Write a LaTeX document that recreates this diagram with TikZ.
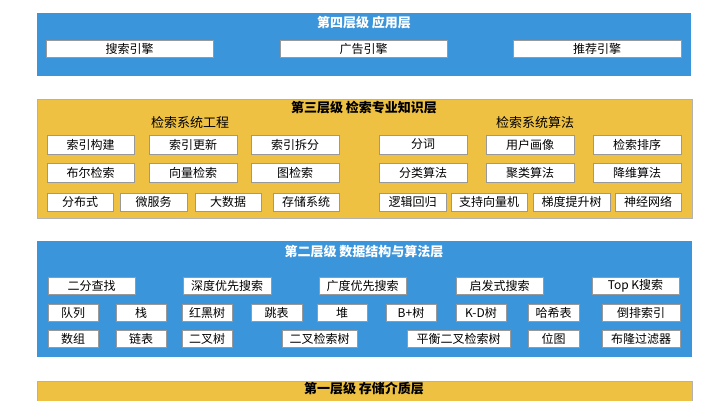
\documentclass[tikz,border=0pt]{standalone}
\usepackage{fontspec}
\setmainfont{Noto Sans CJK SC}
\definecolor{layerblue}{HTML}{3B95DB}
\definecolor{layeryellow}{HTML}{EFC143}

\begin{document}
\begin{tikzpicture}[x=1pt,y=-1pt,
				layer/.style = {draw=gray!60, line width=0.6pt},
				box node/.style = {draw=gray!80, fill=white, line width=0.5pt, inner sep=0pt, minimum height=17pt, font=\fontsize{12}{13}\selectfont},
				title node/.style = {font=\fontsize{13}{14}\selectfont\bfseries, inner sep=0pt}]
				\useasboundingbox (0,0) rectangle (728,400);
				
				% layer 4
				\fill[layerblue] (37,13) rectangle (691,76);
				\node[title node,text=white] (t4) at (364,23) {第四层级\ 应用层};
				\node[box node,minimum width=167pt] (a1) at (129.5,48.5) {搜索引擎};
				\node[box node,minimum width=167pt] (a2) at (363.5,48.5) {广告引擎};
				\node[box node,minimum width=168pt] (a3) at (597,48.5) {推荐引擎};
				
				% layer 3
				\filldraw[layer,fill=layeryellow] (37,99) rectangle (692,218);
				\node[title node] (t3) at (364,108) {第三层级\ 检索专业知识层};
				\node[title node,font=\fontsize{13}{14}\selectfont] (e0) at (190,123) {检索系统工程};
				\node[title node,font=\fontsize{13}{14}\selectfont] (s0) at (535,123) {检索系统算法};
				\node[box node,minimum width=87pt,minimum height=19pt] (e1) at (90.5,144.5) {索引构建};
				\node[box node,minimum width=88pt,minimum height=19pt] (e2) at (193,144.5) {索引更新};
				\node[box node,minimum width=88pt,minimum height=19pt] (e3) at (295,144.5) {索引拆分};
				\node[box node,minimum width=87pt,minimum height=19pt] (e4) at (90.5,173) {布尔检索};
				\node[box node,minimum width=88pt,minimum height=19pt] (e5) at (193,173) {向量检索};
				\node[box node,minimum width=88pt,minimum height=19pt] (e6) at (295,173) {图检索};
				\node[box node,minimum width=66pt,minimum height=18pt] (e7) at (80,202) {分布式};
				\node[box node,minimum width=67pt,minimum height=18pt] (e8) at (153.5,202) {微服务};
				\node[box node,minimum width=66pt,minimum height=18pt] (e9) at (228,202) {大数据};
				\node[box node,minimum width=66pt,minimum height=18pt] (e10) at (306,202) {存储系统};
				\node[box node,minimum width=88pt,minimum height=19pt] (s1) at (423,144.5) {分词};
				\node[box node,minimum width=88pt,minimum height=19pt] (s2) at (530,144.5) {用户画像};
				\node[box node,minimum width=88pt,minimum height=19pt] (s3) at (637,144.5) {检索排序};
				\node[box node,minimum width=88pt,minimum height=19pt] (s4) at (423,173) {分类算法};
				\node[box node,minimum width=88pt,minimum height=19pt] (s5) at (530,173) {聚类算法};
				\node[box node,minimum width=88pt,minimum height=19pt] (s6) at (637,173) {降维算法};
				\node[box node,minimum width=67pt,minimum height=18pt] (s7) at (412.5,202) {逻辑回归};
				\node[box node,minimum width=76pt,minimum height=18pt] (s8) at (489,202) {支持向量机};
				\node[box node,minimum width=77pt,minimum height=18pt] (s9) at (571.5,202) {梯度提升树};
				\node[box node,minimum width=66pt,minimum height=18pt] (s10) at (648,202) {神经网络};
				
				% layer 2
				\fill[layerblue] (37,241) rectangle (692,357);
				\node[title node,text=white] (t2) at (364,252) {第二层级\ 数据结构与算法层};
				\node[box node,minimum width=87pt] (d1) at (91.5,286) {二分查找};
				\node[box node,minimum width=88pt] (d2) at (227,286) {深度优先搜索};
				\node[box node,minimum width=87pt] (d3) at (362.5,286) {广度优先搜索};
				\node[box node,minimum width=87pt] (d4) at (499.5,286) {启发式搜索};
				\node[box node,minimum width=87pt] (d5) at (635.5,286) {Top K搜索};
				\node[box node,minimum width=50pt] (d6) at (73,312.5) {队列};
				\node[box node,minimum width=50pt] (d7) at (141,312.5) {栈};
				\node[box node,minimum width=50pt] (d8) at (207,312.5) {红黑树};
				\node[box node,minimum width=51pt] (d9) at (276.5,312.5) {跳表};
				\node[box node,minimum width=50pt] (d10) at (342,312.5) {堆};
				\node[box node,minimum width=50pt] (d11) at (411,312.5) {B+树};
				\node[box node,minimum width=50pt] (d12) at (481,312.5) {K-D树};
				\node[box node,minimum width=51pt] (d13) at (553.5,312.5) {哈希表};
				\node[box node,minimum width=78pt] (d14) at (641,312.5) {倒排索引};
				\node[box node,minimum width=50pt] (d15) at (73,338.5) {数组};
				\node[box node,minimum width=50pt] (d16) at (141,338.5) {链表};
				\node[box node,minimum width=50pt] (d17) at (207,338.5) {二叉树};
				\node[box node,minimum width=75pt] (d18) at (319.5,338.5) {二叉检索树};
				\node[box node,minimum width=103pt] (d19) at (458.5,338.5) {平衡二叉检索树};
				\node[box node,minimum width=51pt] (d20) at (553.5,338.5) {位图};
				\node[box node,minimum width=78pt] (d21) at (641,338.5) {布隆过滤器};
				
				% layer 1
				\filldraw[layer,fill=layeryellow] (37,381) rectangle (692,402);
				\node[title node] (t1) at (364,389) {第一层级\ 存储介质层};
\end{tikzpicture}
\end{document}
